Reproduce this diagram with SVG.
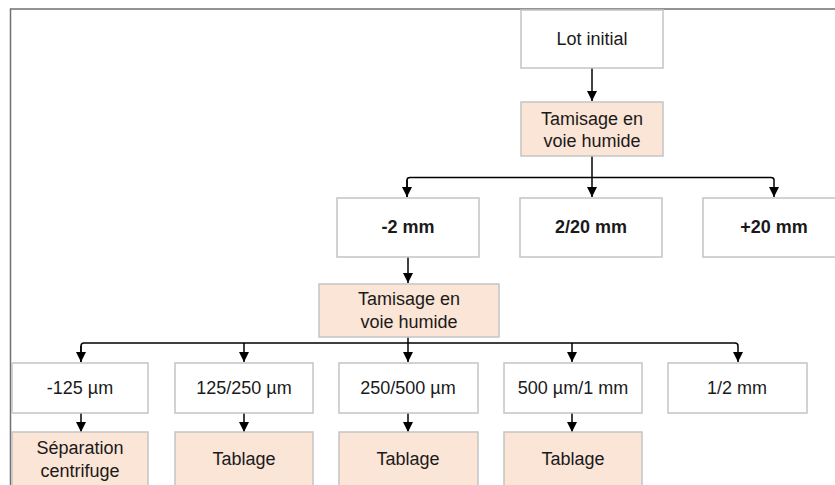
<svg xmlns="http://www.w3.org/2000/svg" width="835" height="485" viewBox="0 0 835 485">
  <defs>
    <marker id="arrow" viewBox="0 0 10 10" refX="10" refY="5" markerWidth="10" markerHeight="10" markerUnits="userSpaceOnUse" orient="auto">
      <path d="M0,0 L10,5 L0,10 z" fill="#000"/>
    </marker>
    <style>
      .box { fill: #ffffff; stroke: #c4c4c4; stroke-width: 1.5; }
      .step { fill: #fbe5d6; stroke: #c4c4c4; stroke-width: 1.5; }
      .lbl { font-family: "Liberation Sans", Arial, sans-serif; font-size: 18px; fill: #1a1a1a; text-anchor: middle; }
      .bold { font-weight: bold; }
      .wire { fill: none; stroke: #000; stroke-width: 1.5; stroke-linejoin: round; }
      .frame { fill: none; stroke: #707070; stroke-width: 1.5; }
    </style>
  </defs>

  <rect width="835" height="485" fill="#ffffff"/>
  <!-- outer frame -->
  <path class="frame" d="M10.5,490 L10.5,9 L840,9"/>

  <!-- connectors -->
  <g id="connectors">
    <line class="wire" x1="592" y1="68" x2="592" y2="101" marker-end="url(#arrow)"/>
    <line class="wire" x1="592" y1="156" x2="592" y2="197" marker-end="url(#arrow)"/>
    <path class="wire" d="M407,197 L407,180 Q407,177.5 410,177.5 L771,177.5 Q774,177.5 774,180 L774,197" marker-end="url(#arrow)"/>
    <path class="wire" d="M407,180 L407,197" marker-end="url(#arrow)"/>
    <line class="wire" x1="408" y1="257" x2="408" y2="283" marker-end="url(#arrow)"/>
    <line class="wire" x1="408" y1="337" x2="408" y2="362" marker-end="url(#arrow)"/>
    <path class="wire" d="M81,362 L81,346 Q81,343 84,343 L735,343 Q738,343 738,346 L738,362" marker-end="url(#arrow)"/>
    <path class="wire" d="M81,346 L81,362" marker-end="url(#arrow)"/>
    <line class="wire" x1="244" y1="343" x2="244" y2="362" marker-end="url(#arrow)"/>
    <line class="wire" x1="572" y1="343" x2="572" y2="362" marker-end="url(#arrow)"/>
    <line class="wire" x1="81" y1="413" x2="81" y2="432" marker-end="url(#arrow)"/>
    <line class="wire" x1="244" y1="413" x2="244" y2="432" marker-end="url(#arrow)"/>
    <line class="wire" x1="408" y1="413" x2="408" y2="432" marker-end="url(#arrow)"/>
    <line class="wire" x1="572" y1="413" x2="572" y2="432" marker-end="url(#arrow)"/>
  </g>

  <g id="lot-initial">
    <rect class="box" x="521" y="10" width="142" height="58"/>
    <text class="lbl" x="592" y="45">Lot initial</text>
  </g>
  <g id="tamisage-1">
    <rect class="step" x="521" y="102" width="142" height="54"/>
    <text class="lbl" x="592" y="125">Tamisage en</text>
    <text class="lbl" x="592" y="147">voie humide</text>
  </g>

  <g id="moins-2mm">
    <rect class="box" x="337" y="198" width="142" height="59"/>
    <text class="lbl bold" x="408" y="233">-2 mm</text>
  </g>
  <g id="de-2-a-20mm">
    <rect class="box" x="520" y="198" width="142" height="59"/>
    <text class="lbl bold" x="591" y="233">2/20 mm</text>
  </g>
  <g id="plus-20mm">
    <rect class="box" x="703" y="198" width="142" height="59"/>
    <text class="lbl bold" x="774" y="233">+20 mm</text>
  </g>

  <g id="tamisage-2">
    <rect class="step" x="319" y="284" width="180" height="53"/>
    <text class="lbl" x="409" y="305">Tamisage en</text>
    <text class="lbl" x="409" y="328">voie humide</text>
  </g>

  <g id="moins-125um">
    <rect class="box" x="12" y="363" width="136" height="50"/>
    <text class="lbl" x="80" y="394">-125 µm</text>
  </g>
  <g id="de-125-a-250um">
    <rect class="box" x="175" y="363" width="138" height="50"/>
    <text class="lbl" x="244" y="394">125/250 µm</text>
  </g>
  <g id="de-250-a-500um">
    <rect class="box" x="339" y="363" width="139" height="50"/>
    <text class="lbl" x="408" y="394">250/500 µm</text>
  </g>
  <g id="de-500um-a-1mm">
    <rect class="box" x="504" y="363" width="138" height="50"/>
    <text class="lbl" x="573" y="394">500 µm/1 mm</text>
  </g>
  <g id="de-1-a-2mm">
    <rect class="box" x="668" y="363" width="139" height="50"/>
    <text class="lbl" x="737" y="394">1/2 mm</text>
  </g>

  <g id="separation-centrifuge">
    <rect class="step" x="12" y="432" width="136" height="60"/>
    <text class="lbl" x="80" y="454">Séparation</text>
    <text class="lbl" x="80" y="477">centrifuge</text>
  </g>
  <g id="tablage-1">
    <rect class="step" x="175" y="432" width="138" height="60"/>
    <text class="lbl" x="244" y="465">Tablage</text>
  </g>
  <g id="tablage-2">
    <rect class="step" x="339" y="432" width="139" height="60"/>
    <text class="lbl" x="408" y="465">Tablage</text>
  </g>
  <g id="tablage-3">
    <rect class="step" x="504" y="432" width="138" height="60"/>
    <text class="lbl" x="573" y="465">Tablage</text>
  </g>
</svg>
